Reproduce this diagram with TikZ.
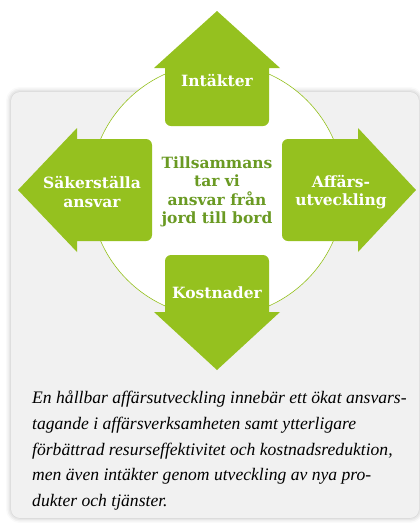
\documentclass[tikz,border=0pt]{standalone}
\usepackage{fontspec}
\usepackage{tikz}
\usetikzlibrary{shadows.blur}
\newfontfamily\slabfont{DejaVu Serif}
\newfontfamily\bodyfont{Liberation Serif}
\definecolor{leafgreen}{HTML}{95C11F}
\definecolor{darkleaf}{HTML}{6A9A23}
\definecolor{panelgray}{HTML}{F1F1F1}
\tikzset{panel/.style={fill=panelgray,rounded corners=9pt,blur shadow={shadow xshift=0pt,shadow yshift=0pt,shadow blur radius=5pt,shadow opacity=30}}}
\tikzset{ring/.style={draw=leafgreen,line width=0.6pt,fill=white}}
\tikzset{arrowshape/.style={fill=leafgreen}}
\tikzset{tag/.style={text=white,font=\slabfont\bfseries\fontsize{15.5}{18.5}\selectfont,align=center,inner sep=0pt}}
\tikzset{core/.style={tag,text=darkleaf}}

\begin{document}
\begin{tikzpicture}[x=1pt,y=-1pt]
    \useasboundingbox (0,0) rectangle (420,523);
    \fill[panel] (11,92) rectangle (419,518);
    \coordinate (mid) at (217,190);
    \draw[ring] (mid) circle[radius=127pt];

    % up
    \path[arrowshape] (217,11) -- (280,68) -- (269,68)
        [rounded corners=6pt] -- (269,126) -- (165,126) [sharp corners] -- (165,68) -- (154,68) -- cycle;
    % down
    \path[arrowshape] (217,370) -- (280,312) -- (269,312)
        [rounded corners=6pt] -- (269,255) -- (165,255) [sharp corners] -- (165,312) -- (154,312) -- cycle;
    % left
    \path[arrowshape] (18,190) -- (77,128) -- (77,139)
        [rounded corners=6pt] -- (152,139) -- (152,241) [sharp corners] -- (77,241) -- (77,252) -- cycle;
    % right
    \path[arrowshape] (416,190) -- (358,128) -- (358,139)
        [rounded corners=6pt] -- (282,139) -- (282,241) [sharp corners] -- (358,241) -- (358,252) -- cycle;

    \node[tag] (income) at (217,80) {Intäkter};
    \node[tag] (costs) at (217,293) {Kostnader};
    \node[tag] (secure) at (92,192) {Säkerställa\\ansvar};
    \node[tag] (business) at (341,192) {Affärs-\\utveckling};
    \node[core] (together) at (217,192) {Tillsammans\\tar vi\\ansvar från\\jord till bord};

    \node[anchor=north west,inner sep=0pt,align=left,font=\bodyfont\itshape\fontsize{17.6}{25.6}\selectfont] (caption) at (32,391)
        {En hållbar affärsutveckling innebär ett ökat ansvars-\\
         tagande i affärsverksamheten samt ytterligare\\
         förbättrad resurseffektivitet och kostnadsreduktion,\\
         men även intäkter genom utveckling av nya pro-\\
         dukter och tjänster.};
\end{tikzpicture}
\end{document}
